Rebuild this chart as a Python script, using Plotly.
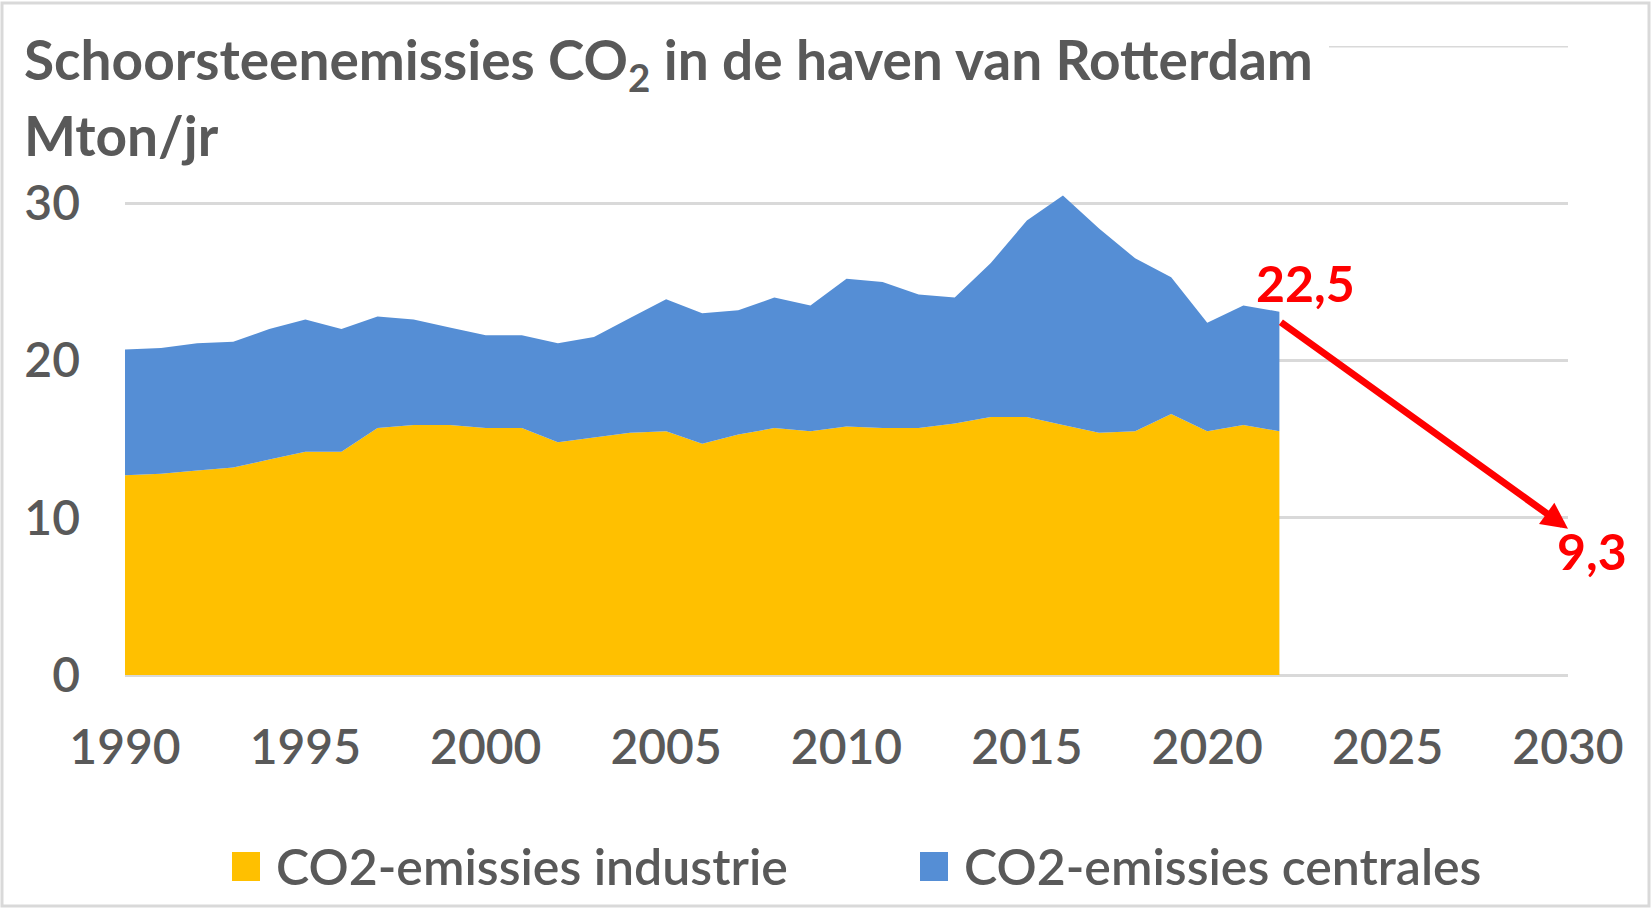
import plotly.graph_objects as go

years = list(range(1990, 2023))
industrie = [12.7, 12.8, 13.0, 13.2, 13.7, 14.2, 14.2, 15.7, 15.9, 15.9, 15.7, 15.7,
             14.8, 15.1, 15.4, 15.5, 14.7, 15.3, 15.7, 15.5, 15.8, 15.7, 15.7, 16.0,
             16.4, 16.4, 15.9, 15.4, 15.5, 16.6, 15.5, 15.9, 15.5]
totaal = [20.7, 20.8, 21.1, 21.2, 22.0, 22.6, 22.0, 22.8, 22.6, 22.1, 21.6, 21.6,
          21.1, 21.5, 22.7, 23.9, 23.0, 23.2, 24.0, 23.5, 25.2, 25.0, 24.2, 24.0,
          26.2, 28.9, 30.5, 28.4, 26.5, 25.3, 22.4, 23.5, 23.1]
centrales = [round(t - i, 2) for t, i in zip(totaal, industrie)]

doel_jaren = [2022, 2030]
doel_waarden = [22.5, 9.3]
doel_labels = ["22,5", "9,3"]

x_ticks = [1990, 1995, 2000, 2005, 2010, 2015, 2020, 2025, 2030]
y_ticks = [0, 10, 20, 30, 40]

W, H = 1652, 909
L, R, T, B = 125, 84, 46, 234
PW, PH = W - L - R, H - T - B

def px(x):
    return (x - L) / PW

def py(y):
    return (H - B - y) / PH

GREY = "#595959"
FONT = "Lato"
YELLOW = "#FFC000"
BLUE = "#558ED5"
GRID = "#D9D9D9"

fig = go.Figure()
fig.add_trace(go.Scatter(x=years, y=industrie, name="CO2-emissies industrie",
                         stackgroup="one", mode="none", fillcolor=YELLOW, showlegend=False))
fig.add_trace(go.Scatter(x=years, y=centrales, name="CO2-emissies centrales",
                         stackgroup="one", mode="none", fillcolor=BLUE, showlegend=False))

# top gridline (partly hidden behind the title in the original)
fig.add_shape(type="line", xref="paper", yref="y", x0=px(1329), x1=1, y0=y_ticks[-1], y1=y_ticks[-1],
              line=dict(color=GRID, width=3), layer="below")

# arrow
fig.add_annotation(x=doel_jaren[1], y=doel_waarden[1], ax=doel_jaren[0], ay=doel_waarden[0],
                   xref="x", yref="y", axref="x", ayref="y", text="", showarrow=True,
                   arrowhead=2, arrowsize=0.75, arrowwidth=7, arrowcolor="#FF0000", standoff=0)
fig.add_annotation(x=doel_jaren[0], y=doel_waarden[0], text="<b>" + doel_labels[0] + "</b>",
                   showarrow=False, xshift=26, yshift=38,
                   font=dict(family=FONT, size=50, color="#FF0000"))
fig.add_annotation(x=doel_jaren[1], y=doel_waarden[1], text="<b>" + doel_labels[1] + "</b>",
                   showarrow=False, xshift=24, yshift=-22,
                   font=dict(family=FONT, size=50, color="#FF0000"))

# title
fig.add_annotation(xref="paper", yref="paper", x=px(22), y=py(63), xanchor="left", yanchor="middle",
                   text="<b>Schoorsteenemissies CO<sub>2</sub> in de haven van Rotterdam</b>",
                   showarrow=False, font=dict(family=FONT, size=55, color=GREY))
fig.add_annotation(xref="paper", yref="paper", x=px(22), y=py(135), xanchor="left", yanchor="middle",
                   text="<b>Mton/jr</b>", showarrow=False, font=dict(family=FONT, size=55, color=GREY))

# legend (manual)
leg = [("CO2-emissies industrie", YELLOW, 232), ("CO2-emissies centrales", BLUE, 920)]
for name, col, x0 in leg:
    fig.add_shape(type="rect", xref="paper", yref="paper", x0=px(x0), x1=px(x0 + 28),
                  y0=py(881), y1=py(852), fillcolor=col, line=dict(width=0))
    fig.add_annotation(xref="paper", yref="paper", x=px(x0 + 42), y=py(866), xanchor="left",
                       yanchor="middle", text=name, showarrow=False,
                       font=dict(family=FONT, size=50, color=GREY, weight=600))

# frame
fig.add_shape(type="rect", xref="paper", yref="paper", x0=px(2), x1=px(1649), y0=py(906), y1=py(3),
              line=dict(color=GRID, width=3), fillcolor="rgba(0,0,0,0)", layer="below")

fig.update_layout(
    width=W, height=H, margin=dict(l=L, r=R, t=T, b=B),
    paper_bgcolor="white", plot_bgcolor="white", showlegend=False,
    font=dict(family=FONT, color=GREY),
    xaxis=dict(range=[1990, 2030], tickvals=x_ticks, showgrid=False, zeroline=False,
               showline=False, ticklabelstandoff=40,
               tickfont=dict(family=FONT, size=48, color=GREY, weight=600)),
    yaxis=dict(range=[0, 40], tickvals=y_ticks, ticktext=["0", "10", "20", "30", ""],
               showgrid=True, gridcolor=GRID, gridwidth=3,
               zeroline=True, zerolinecolor=GRID, zerolinewidth=3, showline=False,
               ticklabelstandoff=44, tickfont=dict(family=FONT, size=48, color=GREY, weight=600)),
)

fig.write_html("out.html", config={"displayModeBar": False},
               post_script="document.body.style.margin='0';document.body.style.overflow='hidden';")
